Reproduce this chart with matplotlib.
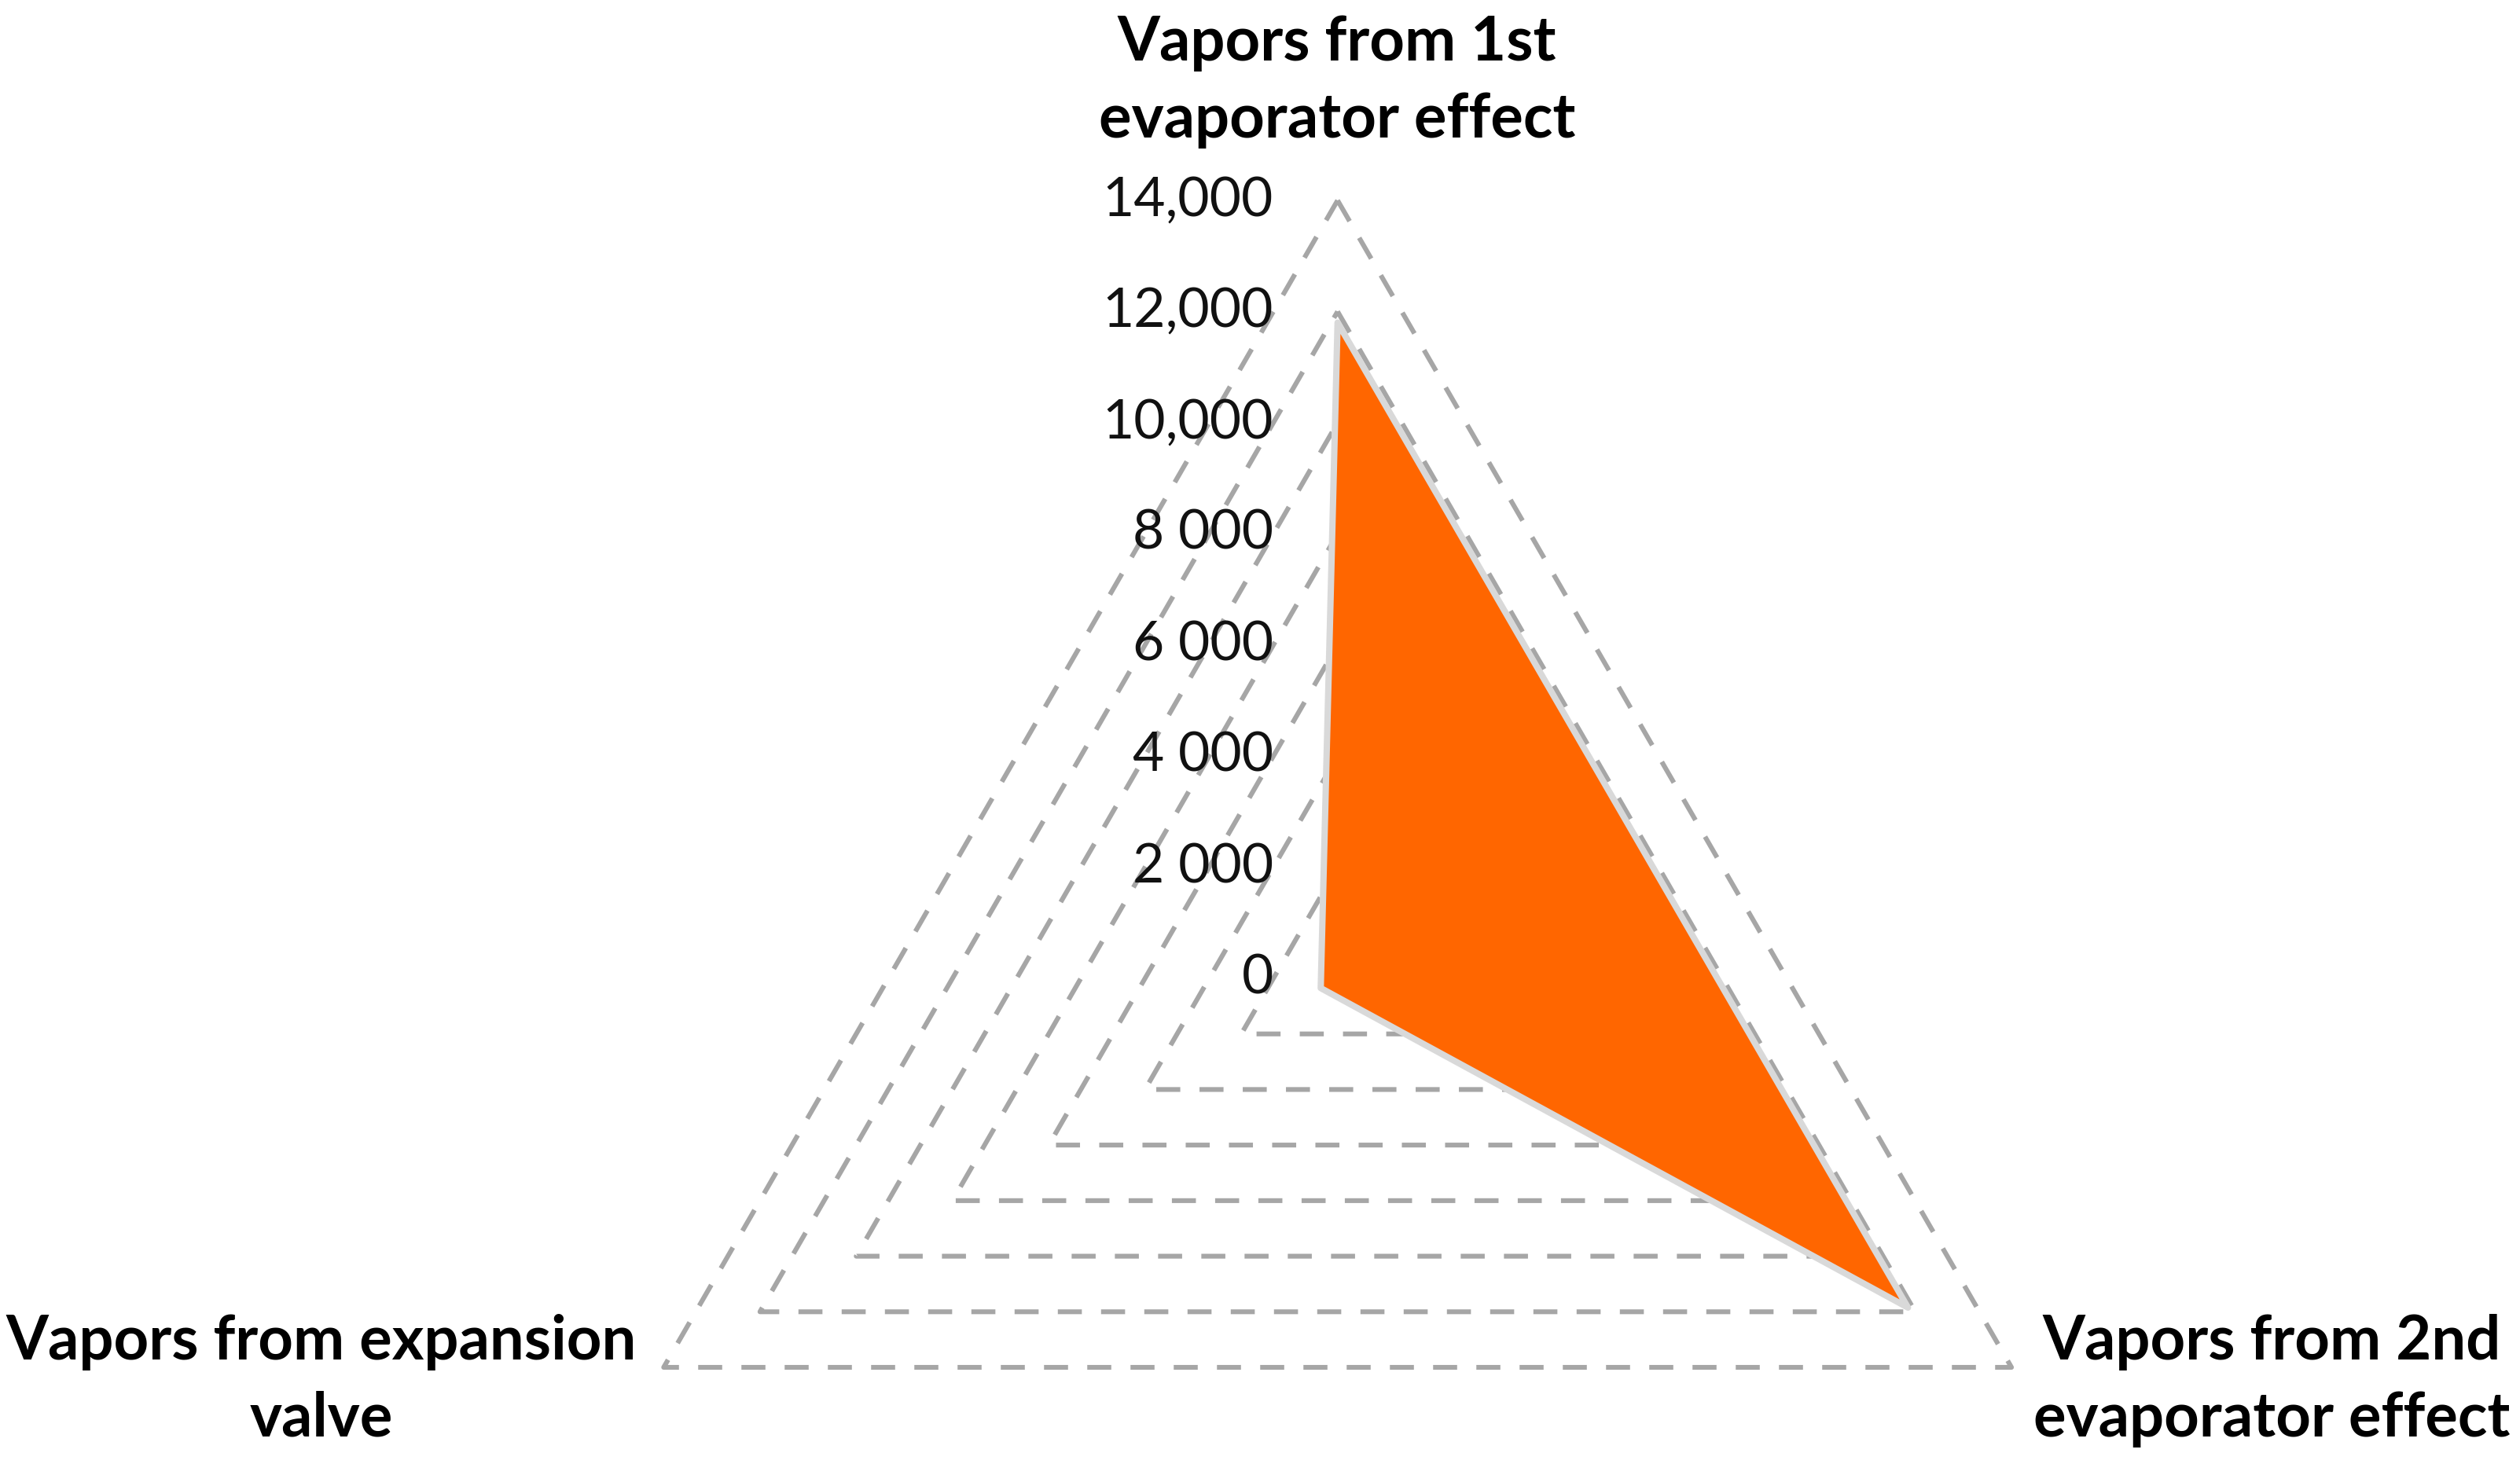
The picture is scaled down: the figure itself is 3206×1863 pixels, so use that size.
import numpy as np
import matplotlib
matplotlib.use("Agg")
import matplotlib.pyplot as plt

# ---- data ----
categories = ["Vapors from 1st\nevaporator effect",
              "Vapors from 2nd\nevaporator effect",
              "Vapors from expansion\nvalve"]
values = [11800, 11850, 350]
tick_values = [0, 2000, 4000, 6000, 8000, 10000, 12000, 14000]
tick_labels = ["0", "2 000", "4 000", "6 000", "8 000", "10,000", "12,000", "14,000"]

FONT = ["Lato", "DejaVu Sans"]
plt.rcParams['font.family'] = FONT

W, H, DPI = 3206, 1863, 200
fig = plt.figure(figsize=(W / DPI, H / DPI), dpi=DPI)
fig.patch.set_facecolor("white")

cx, cy, R = 1701.7, 1245.0, 990.0  # pixel layout of the radar
ax = fig.add_axes([(cx - R) / W, (H - cy - R) / H, 2 * R / W, 2 * R / H],
                  projection="polar")
ax.set_theta_offset(np.pi / 2)
ax.set_theta_direction(-1)
ax.set_ylim(0, tick_values[-1])
ax.grid(False)
ax.set_xticks([])
ax.set_yticks([])
ax.spines["polar"].set_visible(False)
ax.patch.set_visible(False)

n = len(categories)
theta = np.linspace(0, 2 * np.pi, n, endpoint=False)
theta_c = np.append(theta, theta[0])

# dashed triangular gridlines
for tv in tick_values[1:]:
    ax.plot(theta_c, [tv] * (n + 1), color="#A6A6A6", lw=2.2,
            dashes=(5, 4), solid_joinstyle="miter", zorder=1, clip_on=False)

# series
vals_c = values + values[:1]
ax.fill(theta_c, vals_c, facecolor="#FF6600", edgecolor="#D9D9D9",
        lw=2.9, joinstyle="round", zorder=3, clip_on=False)

# value axis labels
for tv, tl in zip(tick_values, tick_labels):
    ax.annotate(tl, xy=(0, tv), xycoords="data", xytext=(-29.5, 0),
                textcoords="offset points", ha="right", va="center",
                fontsize=25, color="#111111", annotation_clip=False)

# category labels
label_pos = [(1701 / W, 1 - 104 / H), (2890 / W, 1 - 1757 / H), (409 / W, 1 - 1757 / H)]
for cat, (x, y) in zip(categories, label_pos):
    fig.text(x, y, cat, ha="center", va="center", multialignment="center",
             fontsize=28, fontweight="bold", color="black", linespacing=1.44)

fig.savefig("out.png", dpi=DPI, facecolor="white")
